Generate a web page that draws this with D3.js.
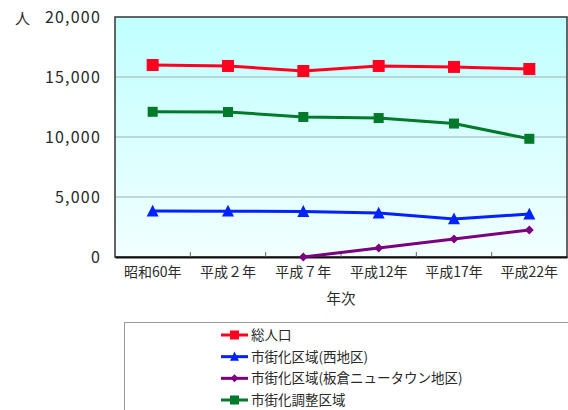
<!DOCTYPE html>
<html lang="ja">
<head>
<meta charset="UTF-8">
<title>人口推移</title>
<script src="https://cdn.jsdelivr.net/npm/d3@7"></script>
<style>
  body { margin: 0; background: #fff; }
  text { font-family: "Noto Sans CJK JP", "Noto Sans", sans-serif; fill: #2a2a2a; }
</style>
</head>
<body>
<svg id="chart" width="568" height="410"></svg>
<script>
// 年次
var years = ["昭和60年", "平成２年", "平成７年", "平成12年", "平成17年", "平成22年"];
// 人
var total = [16000, 15920, 15500, 15920, 15840, 15670];
var west = [3830, 3820, 3790, 3660, 3170, 3580];
var itakura = [null, null, 0, 750, 1500, 2250];
var chousei = [12100, 12080, 11670, 11580, 11120, 9850];
var yTicks = [0, 5000, 10000, 15000, 20000];

var series = [
  { name: "総人口", values: total, color: "#ff0020", shape: "square", size: 12 },
  { name: "市街化区域(西地区)", values: west, color: "#0022ff", shape: "triangle", size: 12 },
  { name: "市街化区域(板倉ニュータウン地区)", values: itakura, color: "#7a0080", shape: "diamond", size: 9 },
  { name: "市街化調整区域", values: chousei, color: "#007a2a", shape: "square", size: 10 }
];

var svg = d3.select("#chart");
var plotLeft = 115, plotRight = 567, plotTop = 17, plotBottom = 257;

var defs = svg.append("defs");
var grad = defs.append("linearGradient").attr("id", "bg")
  .attr("x1", 0).attr("y1", 0).attr("x2", 0).attr("y2", 1);
grad.append("stop").attr("offset", "0%").attr("stop-color", "#c0ffff");
grad.append("stop").attr("offset", "100%").attr("stop-color", "#f2ffff");

var x = d3.scaleBand().domain(years).range([plotLeft, plotRight]);
var y = d3.scaleLinear().domain([0, 20000]).range([plotBottom, plotTop]);

svg.append("rect")
  .attr("x", plotLeft).attr("y", plotTop)
  .attr("width", plotRight - plotLeft).attr("height", plotBottom - plotTop)
  .attr("fill", "url(#bg)");

// grid
svg.append("g").selectAll("line")
  .data(yTicks.filter(d => d > 0 && d < 20000))
  .enter().append("line")
  .attr("x1", plotLeft).attr("x2", plotRight)
  .attr("y1", d => y(d)).attr("y2", d => y(d))
  .attr("stroke", "#99b0b0").attr("stroke-width", 1);

// frame
svg.append("rect")
  .attr("x", plotLeft).attr("y", plotTop)
  .attr("width", plotRight - plotLeft).attr("height", plotBottom - plotTop)
  .attr("fill", "none").attr("stroke", "#333").attr("stroke-width", 1.5);

// y axis labels
svg.append("g").selectAll("text")
  .data(yTicks)
  .enter().append("text")
  .attr("x", 101).attr("y", d => y(d) + 6)
  .attr("text-anchor", "end")
  .style("font-size", "16px")
  .style("letter-spacing", "1.2px")
  .text(d => d3.format(",")(d));

svg.append("text").attr("x", 15).attr("y", 24)
  .style("font-size", "15px").text("人");

// x axis
var xAxis = d3.axisBottom(x).tickSize(0).tickPadding(10);
var gx = svg.append("g").attr("transform", "translate(0," + plotBottom + ")").call(xAxis);
gx.select(".domain").attr("stroke", "#111").attr("stroke-width", 2);
gx.selectAll("text").style("font-size", "14px").attr("fill", "#2a2a2a")
  .style("font-family", "'Noto Sans CJK JP', sans-serif");

// inner tick marks at band boundaries
svg.append("g").selectAll("line")
  .data(years.slice(1))
  .enter().append("line")
  .attr("x1", d => x(d)).attr("x2", d => x(d))
  .attr("y1", plotBottom).attr("y2", plotBottom - 5)
  .attr("stroke", "#666");

svg.append("text").attr("x", 341).attr("y", 304)
  .attr("text-anchor", "middle")
  .style("font-size", "14.5px").text("年次");

function marker(g, shape, size, color) {
  if (shape === "square") {
    g.append("rect").attr("x", -size / 2).attr("y", -size / 2)
      .attr("width", size).attr("height", size).attr("fill", color);
  } else if (shape === "triangle") {
    var h = size * 0.9;
    g.append("path").attr("d", "M0," + (-h / 2 - 1) + "L" + (size / 2) + "," + (h / 2) + "L" + (-size / 2) + "," + (h / 2) + "Z")
      .attr("fill", color);
  } else {
    var r = size / 2;
    g.append("path").attr("d", "M0," + (-r) + "L" + r + ",0L0," + r + "L" + (-r) + ",0Z")
      .attr("fill", color);
  }
}

var line = d3.line()
  .defined(d => d != null)
  .x((d, i) => x(years[i]) + x.bandwidth() / 2)
  .y(d => y(d));

series.forEach(function (s) {
  svg.append("path")
    .attr("d", line(s.values))
    .attr("fill", "none")
    .attr("stroke", s.color)
    .attr("stroke-width", 3);
  s.values.forEach(function (v, i) {
    if (v == null) return;
    var g = svg.append("g")
      .attr("transform", "translate(" + (x(years[i]) + x.bandwidth() / 2) + "," + y(v) + ")");
    marker(g, s.shape, s.size, s.color);
  });
});

// legend
svg.append("rect")
  .attr("x", 124.5).attr("y", 322.5)
  .attr("width", 500).attr("height", 120)
  .attr("fill", "#fff").attr("stroke", "#999");

var legendY = d3.scalePoint().domain(series.map(s => s.name)).range([335, 400]);
series.forEach(function (s) {
  var ly = legendY(s.name);
  svg.append("line").attr("x1", 221).attr("x2", 248)
    .attr("y1", ly).attr("y2", ly)
    .attr("stroke", s.color).attr("stroke-width", 3);
  var g = svg.append("g").attr("transform", "translate(234.5," + ly + ")");
  marker(g, s.shape, s.shape === "diamond" ? 8 : 9, s.color);
  svg.append("text").attr("x", 251).attr("y", ly + 5)
    .style("font-size", "13.5px").text(s.name);
});
</script>
</body>
</html>
